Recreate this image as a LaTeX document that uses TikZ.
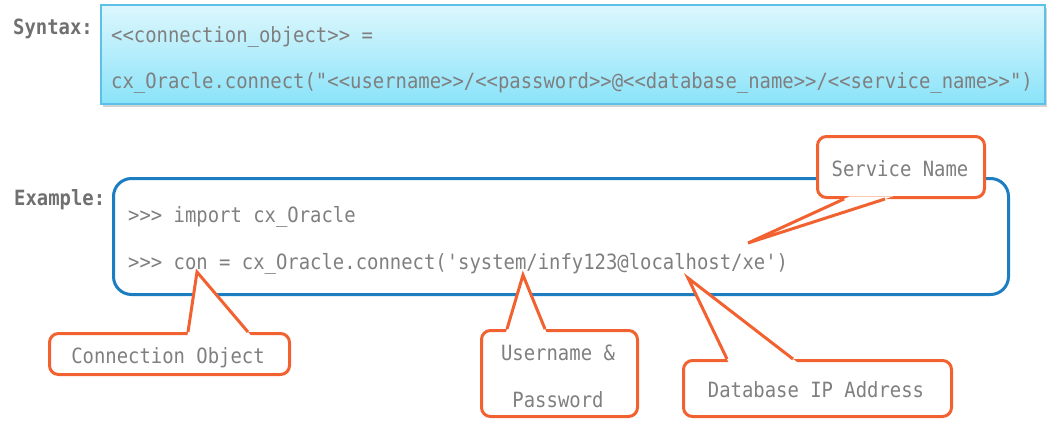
\documentclass[tikz,border=0pt]{standalone}
\usepackage{fontspec}
\newfontfamily\codefont[FakeStretch=0.9,Ligatures=TeXOff]{DejaVu Sans Mono}
\usetikzlibrary{shadows,calc}
\definecolor{txtgray}{HTML}{7F7F7F}
\definecolor{lblgray}{HTML}{707070}
\definecolor{synborder}{HTML}{5DC0E8}
\definecolor{syntop}{HTML}{DDF7FD}
\definecolor{synbot}{HTML}{8AE3F9}
\definecolor{exblue}{HTML}{1C7DC1}
\definecolor{callorange}{HTML}{F26230}
\tikzset{
  codetxt/.style={anchor=base west, inner sep=0pt, text=txtgray, font=\codefont\fontsize{21}{25}\selectfont},
  lbltxt/.style={anchor=base west, inner sep=0pt, text=lblgray, font=\codefont\bfseries\fontsize{21}{25}\selectfont},
  calltxt/.style={anchor=base, inner sep=0pt, text=txtgray, font=\codefont\fontsize{21}{25}\selectfont},
  synbox/.style={draw=synborder, line width=1.8pt, top color=syntop, bottom color=synbot,
    drop shadow={shadow xshift=2pt, shadow yshift=-3pt, opacity=0.35, fill=gray}},
  exbox/.style={draw=exblue, line width=3pt, rounded corners=18pt},
  callbox/.style={draw=callorange, line width=3pt, rounded corners=9pt, fill=white},
  callptr/.style={draw=callorange, line width=3pt, line join=miter},
}
\begin{document}
\begin{tikzpicture}[x=1pt,y=-1pt]
\useasboundingbox (0,0) rectangle (1050,429);
% Syntax
\node[synbox, minimum width=944pt, minimum height=99pt, anchor=north west, inner sep=0pt] (syn) at (100,4) {};
\node[lbltxt] (synlbl) at (13,34) {Syntax:};
\node[codetxt] (syn1) at (111,42) {<<connection\_object>> =};
\node[codetxt] (syn2) at (111,88) {cx\_Oracle.connect("<<username>>/<<password>>@<<database\_name>>/<<service\_name>>")};
% Example
\node[lbltxt] (exlbl) at (14,205) {Example:};
\node[exbox, minimum width=895pt, minimum height=116pt, anchor=north west, inner sep=0pt] (ex) at (112,177) {};
\node[codetxt] (ex1) at (128,222) {>>> import cx\_Oracle};
\node[codetxt] (ex2) at (128,269) {>>> con = cx\_Oracle.connect('system/infy123@localhost/xe')};
% Callouts: named points
\coordinate (tipSvc) at (748,243);
\coordinate (tipCon) at (197,272);
\coordinate (tipUsr) at (523,275);
\coordinate (tipDb)  at (688,278);
% Service Name
\node[callbox, minimum width=167pt, minimum height=61pt, anchor=north west, inner sep=0pt] (svc) at (816,135) {};
\coordinate (svcA) at ($(svc.south west)+(28,0)$);
\coordinate (svcB) at ($(svc.south west)+(69,0)$);
\fill[white] (tipSvc) -- ($(tipSvc)!1.06!(svcA)$) -- ($(tipSvc)!1.06!(svcB)$) -- cycle;
\draw[callptr] (svcA) -- (tipSvc) -- (svcB);
\node[calltxt] (svct) at (900,176) {Service Name};
% Connection Object
\node[callbox, minimum width=240pt, minimum height=41pt, anchor=north west, inner sep=0pt] (con) at (48,332) {};
\coordinate (conA) at ($(con.north west)+(140,0)$);
\coordinate (conB) at ($(con.north west)+(200,0)$);
\fill[white] (tipCon) -- ($(tipCon)!1.07!(conA)$) -- ($(tipCon)!1.07!(conB)$) -- cycle;
\draw[callptr] (conA) -- (tipCon) -- (conB);
\node[calltxt] (cont) at (168,363) {Connection Object};
% Username & Password
\node[callbox, minimum width=156pt, minimum height=86pt, anchor=north west, inner sep=0pt] (usr) at (480,329) {};
\coordinate (usrA) at ($(usr.north west)+(27,0)$);
\coordinate (usrB) at ($(usr.north west)+(65,0)$);
\fill[white] (tipUsr) -- ($(tipUsr)!1.07!(usrA)$) -- ($(tipUsr)!1.07!(usrB)$) -- cycle;
\draw[callptr] (usrA) -- (tipUsr) -- (usrB);
\node[calltxt] (usrt1) at (558,360) {Username \&};
\node[calltxt] (usrt2) at (558,407) {Password};
% Database IP Address
\node[callbox, minimum width=268pt, minimum height=56pt, anchor=north west, inner sep=0pt] (db) at (682,359) {};
\coordinate (dbA) at ($(db.north west)+(45,0)$);
\coordinate (dbB) at ($(db.north west)+(111,0)$);
\fill[white] (tipDb) -- ($(tipDb)!1.05!(dbA)$) -- ($(tipDb)!1.05!(dbB)$) -- cycle;
\draw[callptr] (dbA) -- (tipDb) -- (dbB);
\node[calltxt] (dbt) at (816,397) {Database IP Address};
\end{tikzpicture}
\end{document}
